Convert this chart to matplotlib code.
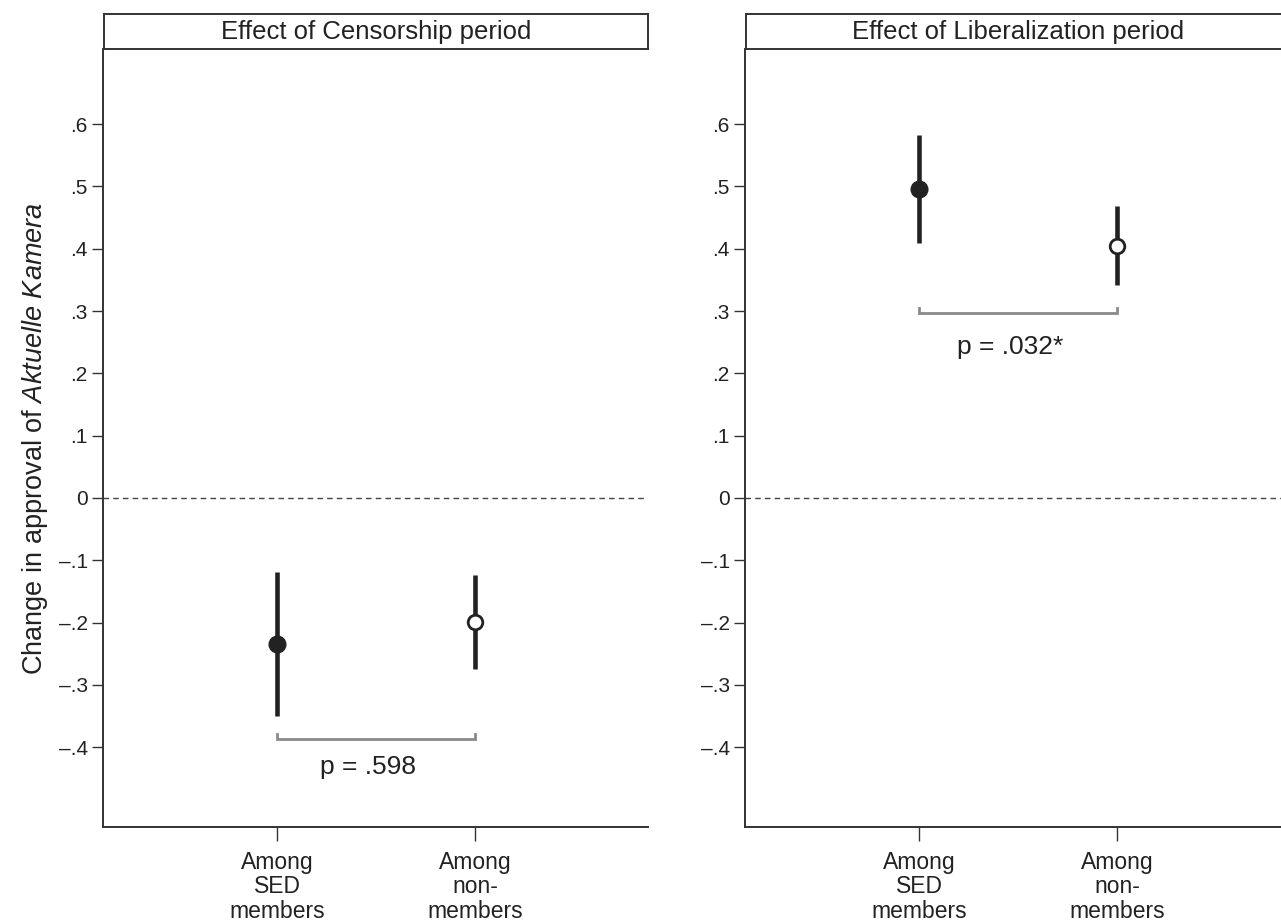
import matplotlib
matplotlib.use("Agg")
import matplotlib.pyplot as plt

plt.rcParams['font.family'] = ['Liberation Sans', 'DejaVu Sans']
plt.rcParams['mathtext.fontset'] = 'custom'
plt.rcParams['mathtext.rm'] = 'Liberation Sans'
plt.rcParams['mathtext.it'] = 'Liberation Sans:italic'

# data
groups = ["Among\nSED\nmembers", "Among\nnon-\nmembers"]
xpos = [1, 2]
panel_titles = ["Effect of Censorship period", "Effect of Liberalization period"]
est = [[-0.234, -0.199], [0.496, 0.404]]
ci_lo = [[-0.350, -0.274], [0.409, 0.342]]
ci_hi = [[-0.119, -0.124], [0.583, 0.469]]
p_labels = ["p = .598", "p = .032*"]
bracket_y = [-0.387, 0.297]
p_label_y = [-0.432, 0.242]
yticks = [-0.4, -0.3, -0.2, -0.1, 0, 0.1, 0.2, 0.3, 0.4, 0.5, 0.6]
ytick_labels = ["\u2013.4", "\u2013.3", "\u2013.2", "\u2013.1", "0",
                ".1", ".2", ".3", ".4", ".5", ".6"]

W, H = 1281, 922
fig = plt.figure(figsize=(W / 100, H / 100), dpi=100)


def frame(x0, x1, y0, y1):
    return [x0 / W, 1 - y1 / H, (x1 - x0) / W, (y1 - y0) / H]


dark = '#222222'
axes = [fig.add_axes(frame(103, 648, 49, 827)),
        fig.add_axes(frame(745, 1290, 49, 827))]
tboxes = [fig.add_axes(frame(104, 648, 14, 49)),
          fig.add_axes(frame(746, 1290, 14, 49))]

for i, ax in enumerate(axes):
    ax.set_xlim(0.121, 2.874)
    ax.set_ylim(-0.528, 0.7205)
    ax.spines['top'].set_visible(False)
    ax.spines['right'].set_visible(False)
    for s in ['left', 'bottom']:
        ax.spines[s].set_linewidth(1.4)
        ax.spines[s].set_color('#333333')
    ax.axhline(0, color='#444444', lw=1.0, ls=(0, (4, 3)), zorder=1)

    # confidence intervals
    ax.vlines(xpos, ci_lo[i], ci_hi[i], color=dark, lw=3.3, zorder=2)
    ax.plot(xpos[0], est[i][0], 'o', ms=12, color=dark, zorder=3)
    ax.plot(xpos[1], est[i][1], 'o', ms=10.5, mfc='white', mec=dark,
            mew=2.0, zorder=3)

    # bracket with p-value
    by = bracket_y[i]
    ax.plot([xpos[0], xpos[0], xpos[1], xpos[1]],
            [by + 0.008, by, by, by + 0.008],
            color='#8a8a8a', lw=2.0, solid_joinstyle='miter', zorder=2)
    ax.text(1.46, p_label_y[i], p_labels[i], ha='center', va='center',
            fontsize=19, color=dark)

    ax.set_yticks(yticks)
    ax.set_yticklabels(ytick_labels)
    ax.set_xticks(xpos)
    ax.set_xticklabels(groups, linespacing=1.1)
    ax.tick_params(axis='y', length=8, width=1.0, color='#333333',
                   labelsize=15, labelcolor=dark, pad=3)
    ax.tick_params(axis='x', length=10, width=1.0, color='#333333',
                   labelsize=16.5, labelcolor=dark, pad=7)

    tb = tboxes[i]
    tb.set_xticks([])
    tb.set_yticks([])
    for s in tb.spines.values():
        s.set_linewidth(1.4)
        s.set_color('#333333')
    tb.text(0.5, 0.5, panel_titles[i], ha='center', va='center',
            fontsize=18.5, color=dark, transform=tb.transAxes)

axes[0].set_ylabel(r"Change in approval of $\it{Aktuelle\ Kamera}$",
                   fontsize=19.5, color=dark, labelpad=6)

fig.savefig("out.png", dpi=100)
